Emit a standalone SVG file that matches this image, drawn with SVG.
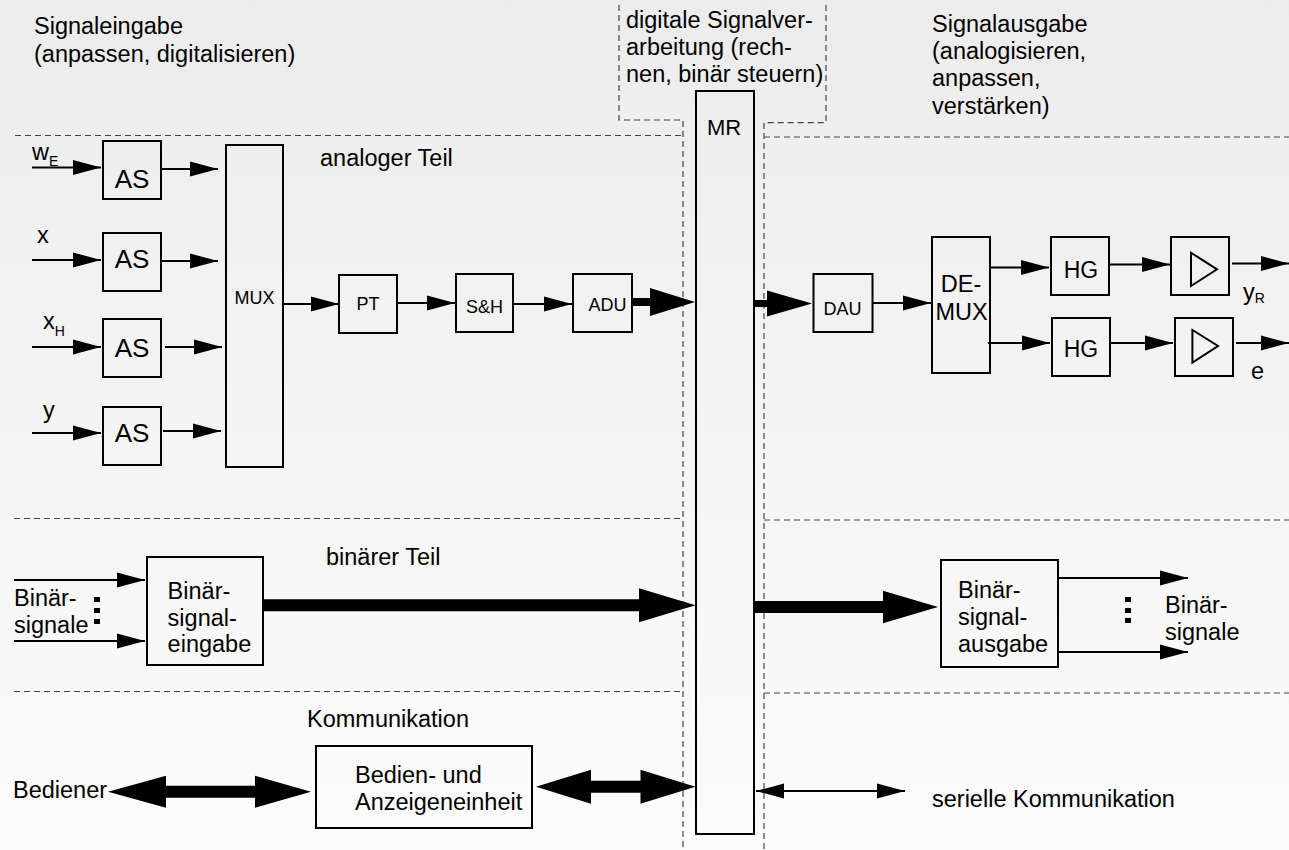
<svg xmlns="http://www.w3.org/2000/svg" width="1289" height="850" viewBox="0 0 1289 850">
<defs>
<linearGradient id="bg" x1="0" y1="0" x2="0" y2="1">
<stop offset="0" stop-color="#ececec"/>
<stop offset="1" stop-color="#fcfcfc"/>
</linearGradient>
<marker id="ah" markerUnits="userSpaceOnUse" markerWidth="28" markerHeight="16" refX="28" refY="8" orient="auto-start-reverse">
<path d="M0,0.5 L28,8 L0,15.5 z" fill="#000"/>
</marker>
<style>
.box{fill:none;stroke:#000;stroke-width:2}
.dash{fill:none;stroke:#444;stroke-width:1.2;stroke-dasharray:6 4}
.ln{fill:none;stroke:#000;stroke-width:2;marker-end:url(#ah)}
.thick{fill:#000;stroke:none}
text{font-family:"Liberation Sans",Arial,sans-serif;fill:#000}
.t{font-size:23.5px}
.s{font-size:18px}
.as{font-size:26px}
.sub{font-size:14px}
.m{text-anchor:middle}
</style>
</defs>
<rect x="0" y="0" width="1289" height="850" fill="url(#bg)"/>

<g id="frames">
<path class="dash" d="M619,5 V120 H683 V850"/>
<path class="dash" d="M826,5 V122.7 H764 V850"/>
<path class="dash" d="M15,135.5 H683"/>
<path class="dash" d="M14,518.5 H683"/>
<path class="dash" d="M14,691.5 H683"/>
<path class="dash" d="M764,137 H1289"/>
<path class="dash" d="M764,520 H1289"/>
<path class="dash" d="M764,693 H1289"/>
</g>

<g id="section-labels">
<text class="t" x="34" y="34">Signaleingabe</text>
<text class="t" x="34" y="62">(anpassen, digitalisieren)</text>
<text class="t" x="626" y="27.7">digitale Signalver-</text>
<text class="t" x="626" y="55">arbeitung (rech-</text>
<text class="t" x="626" y="82.3">nen, binär steuern)</text>
<text class="t" x="932" y="32">Signalausgabe</text>
<text class="t" x="932" y="59.2">(analogisieren,</text>
<text class="t" x="932" y="86.4">anpassen,</text>
<text class="t" x="932" y="113.6">verstärken)</text>
<text class="t" x="320" y="165.7">analoger Teil</text>
<text class="t" x="326" y="565">binärer Teil</text>
<text class="t" x="307" y="726.7">Kommunikation</text>
</g>

<g id="signal-labels">
<text class="t" x="32" y="160">w<tspan class="sub" dy="6">E</tspan></text>
<text class="t" x="37" y="243">x</text>
<text class="t" x="43" y="329">x<tspan class="sub" dy="7">H</tspan></text>
<text class="t" x="43" y="418">y</text>
<text class="t" x="1243" y="300">y<tspan class="sub" dy="2.5">R</tspan></text>
<text class="t" x="1251" y="379">e</text>
<text class="t" x="14" y="606">Binär-</text>
<text class="t" x="14" y="633">signale</text>
<text class="t" x="1165" y="613.3">Binär-</text>
<text class="t" x="1165" y="640">signale</text>
<text class="t" x="13" y="798.3">Bediener</text>
<text class="t" x="932" y="807.3">serielle Kommunikation</text>
<rect x="94" y="597" width="6" height="5"/>
<rect x="94" y="608" width="6" height="5"/>
<rect x="94" y="619" width="6" height="5"/>
<rect x="1125" y="597" width="6" height="5"/>
<rect x="1125" y="608" width="6" height="5"/>
<rect x="1125" y="618" width="6" height="5"/>
</g>

<g id="AS1"><rect class="box" x="103" y="141" width="58" height="58"/><text class="as m" x="132" y="188">AS</text></g>
<g id="AS2"><rect class="box" x="103" y="233" width="58" height="58"/><text class="as m" x="132" y="268">AS</text></g>
<g id="AS3"><rect class="box" x="103" y="319" width="58" height="58"/><text class="as m" x="132" y="357">AS</text></g>
<g id="AS4"><rect class="box" x="103" y="407" width="58" height="58"/><text class="as m" x="132" y="442">AS</text></g>
<g id="MUX"><rect class="box" x="226" y="145" width="57" height="322"/><text class="s m" x="254.5" y="304">MUX</text></g>
<g id="PT"><rect class="box" x="339" y="275" width="58" height="58"/><text class="s m" x="368" y="310">PT</text></g>
<g id="SH"><rect class="box" x="456" y="274" width="57" height="58"/><text class="s m" x="484.5" y="312.7">S&amp;H</text></g>
<g id="ADU"><rect class="box" x="573" y="274" width="59" height="58"/><text class="s m" x="607.5" y="311">ADU</text></g>
<g id="MR"><rect class="box" x="696" y="91" width="58" height="743"/><text class="m" style="font-size:22px" x="724" y="135">MR</text></g>
<g id="DAU"><rect class="box" x="813.5" y="274" width="59" height="58"/><text class="s m" x="842.5" y="315">DAU</text></g>
<g id="DEMUX"><rect class="box" x="932" y="237" width="58" height="136"/><text class="t m" x="961" y="291.7">DE-</text><text class="t m" x="961.5" y="320">MUX</text></g>
<g id="HG1"><rect class="box" x="1051" y="237" width="58" height="58"/><text class="m" style="font-size:23px" x="1081" y="277.7">HG</text></g>
<g id="AMP1"><rect class="box" x="1171" y="237" width="58" height="58"/><path class="box" d="M1191,252.7 V286 L1217,269.3 z"/></g>
<g id="HG2"><rect class="box" x="1052" y="318" width="58" height="58"/><text class="m" style="font-size:23px" x="1081" y="357.3">HG</text></g>
<g id="AMP2"><rect class="box" x="1175" y="318" width="58" height="58"/><path class="box" d="M1192.4,330 V362.7 L1218,346 z"/></g>
<g id="BSE"><rect class="box" x="147" y="557" width="116" height="108"/><text class="t" x="167.6" y="599">Binär-</text><text class="t" x="167.6" y="626">signal-</text><text class="t" x="167.6" y="652">eingabe</text></g>
<g id="BSA"><rect class="box" x="941" y="560" width="117" height="107"/><text class="t" x="958" y="598.3">Binär-</text><text class="t" x="958" y="625">signal-</text><text class="t" x="958" y="652">ausgabe</text></g>
<g id="BAE"><rect class="box" x="316" y="746" width="216" height="82"/><text class="t" x="355" y="782.7">Bedien- und</text><text class="t" x="355" y="810">Anzeigeneinheit</text></g>

<g id="connectors">
<path class="ln" d="M32,167.5 H101"/>
<path class="ln" d="M161,169 H218"/>
<path class="ln" d="M32,260 H101"/>
<path class="ln" d="M161,261 H218"/>
<path class="ln" d="M32,347 H101"/>
<path class="ln" d="M165,347 H222"/>
<path class="ln" d="M32,433 H101"/>
<path class="ln" d="M163,431 H221"/>
<path class="ln" d="M283,304 H339"/>
<path class="ln" d="M397,303 H455"/>
<path class="ln" d="M513,304 H572"/>
<path class="ln" d="M872,303 H931"/>
<path class="ln" d="M990,267.5 H1049"/>
<path class="ln" d="M1109,264.5 H1170"/>
<path class="ln" d="M1232,263.5 H1289"/>
<path class="ln" d="M988,343 H1050"/>
<path class="ln" d="M1110,343 H1173"/>
<path class="ln" d="M1236,343 H1289"/>
<path class="ln" d="M14,580 H145"/>
<path class="ln" d="M14,641 H145"/>
<path class="ln" d="M1058,578 H1188"/>
<path class="ln" d="M1058,652 H1188"/>
<path class="ln" style="marker-start:url(#ah)" d="M756,791 H905"/>
<polygon class="thick" points="632,298 650,298 650,288 695,302 650,316 650,306 632,306"/>
<polygon class="thick" points="754,300 767,300 767,290.5 812,303.5 767,316.5 767,307 754,307"/>
<polygon class="thick" points="263,599.3 639,599.3 639,588.3 695.5,605.3 639,622.3 639,611.3 263,611.3"/>
<polygon class="thick" points="754,601 883,601 883,590.7 938,607 883,623.3 883,613 754,613"/>
<polygon class="thick" points="108,791.7 166,775.7 166,785.7 255,785.7 255,775.7 311,791.7 255,807.7 255,797.7 166,797.7 166,807.7"/>
<polygon class="thick" points="536,786.7 591,769.7 591,780.7 640.5,780.7 640.5,769.7 695.5,786.7 640.5,803.7 640.5,792.7 591,792.7 591,803.7"/>
</g>
</svg>
